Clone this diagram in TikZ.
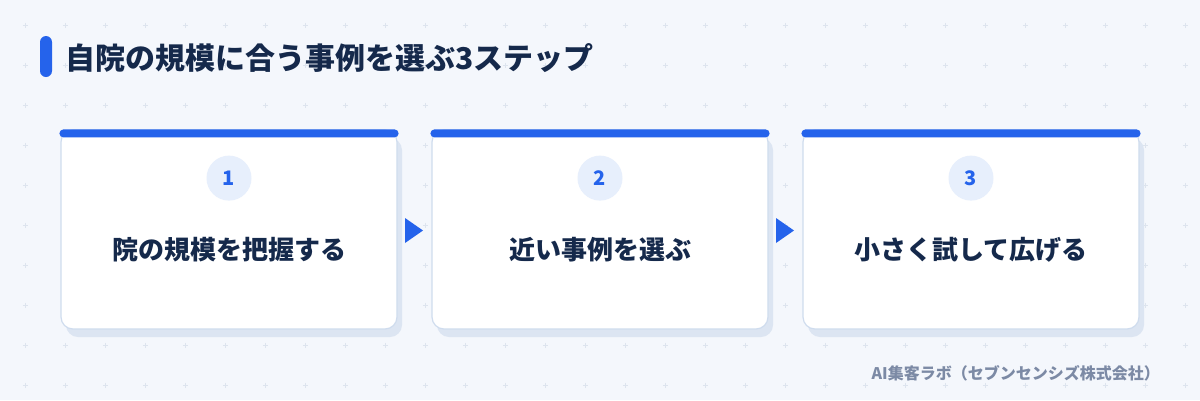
\documentclass[tikz,border=0pt]{standalone}
\usepackage{fontspec}
\setmainfont{Noto Sans CJK JP}
\usepackage{tikz}
\usetikzlibrary{positioning}

\definecolor{bgcol}{HTML}{F4F7FC}
\definecolor{accent}{HTML}{2563EB}
\definecolor{inkcol}{HTML}{15294B}
\definecolor{cardline}{HTML}{CFDCEE}
\definecolor{shadowcol}{HTML}{DCE5F2}
\definecolor{dotfill}{HTML}{E7EFFC}
\definecolor{dotcol}{HTML}{DDE4EE}
\definecolor{creditcol}{HTML}{7C8AA5}

\tikzset{
  card/.style={draw=cardline, fill=white, line width=1.2pt, rounded corners=12pt,
    inner sep=0pt, minimum width=336pt, minimum height=199pt},
  numdot/.style={circle, fill=dotfill, text=accent, inner sep=0pt, minimum size=45pt,
    font=\bfseries\fontsize{20}{24}\selectfont},
  steplabel/.style={text=inkcol, font=\bfseries\fontsize{26}{30}\selectfont},
  headline/.style={text=inkcol, inner sep=0pt, font=\bfseries\fontsize{30}{36}\selectfont},
  credit/.style={text=creditcol, inner sep=0pt, font=\bfseries\fontsize{16}{20}\selectfont}
}

\begin{document}
\begin{tikzpicture}[x=1pt,y=-1pt]
  \useasboundingbox (0,0) rectangle (1200,400);
  \fill[bgcol] (0,0) rectangle (1200,400);
  %\draw[step=40,gray,very thin] (0,0) grid (1200,400);
  \foreach \x in {25,65,...,1185}
    \foreach \y in {25,65,...,385}
      \draw[dotcol, line width=0.7pt] (\x-2.5,\y) -- (\x+2.5,\y) (\x,\y-2.5) -- (\x,\y+2.5);

  % title
  \fill[accent, rounded corners=6pt] (40,36) rectangle (52,77);
  \node[headline, anchor=west] (title) at (65,58) {自院の規模に合う事例を選ぶ3ステップ};

  % shadows
  \fill[shadowcol, rounded corners=12pt] (66,138) rectangle (402,337);
  \fill[shadowcol, rounded corners=12pt] (437,138) rectangle (773,337);
  \fill[shadowcol, rounded corners=12pt] (808,138) rectangle (1144,337);

  % cards
  \node[card] (card1) at (229,229.5) {};
  \node[card] (card2) at (600,229.5) {};
  \node[card] (card3) at (971,229.5) {};

  \fill[accent, rounded corners=4pt] ([xshift=-1pt]card1.north west) rectangle ([xshift=1pt,yshift=-8pt]card1.north east);
  \fill[accent, rounded corners=4pt] ([xshift=-1pt]card2.north west) rectangle ([xshift=1pt,yshift=-8pt]card2.north east);
  \fill[accent, rounded corners=4pt] ([xshift=-1pt]card3.north west) rectangle ([xshift=1pt,yshift=-8pt]card3.north east);

  \node[numdot, below=26pt of card1.north] (num1) {1};
  \node[numdot, below=26pt of card2.north] (num2) {2};
  \node[numdot, below=26pt of card3.north] (num3) {3};

  \node[steplabel] (label1) at ([yshift=-20.5pt]card1.center) {院の規模を把握する};
  \node[steplabel] (label2) at ([yshift=-20.5pt]card2.center) {近い事例を選ぶ};
  \node[steplabel] (label3) at ([yshift=-20.5pt]card3.center) {小さく試して広げる};

  % arrows
  \fill[accent] (405,218) -- (423,230.5) -- (405,243) -- cycle;
  \fill[accent] (776,218) -- (794,230.5) -- (776,243) -- cycle;

  \node[credit, anchor=east] (source) at (1160,373) {AI集客ラボ（セブンセンシズ株式会社）};
\end{tikzpicture}
\end{document}
